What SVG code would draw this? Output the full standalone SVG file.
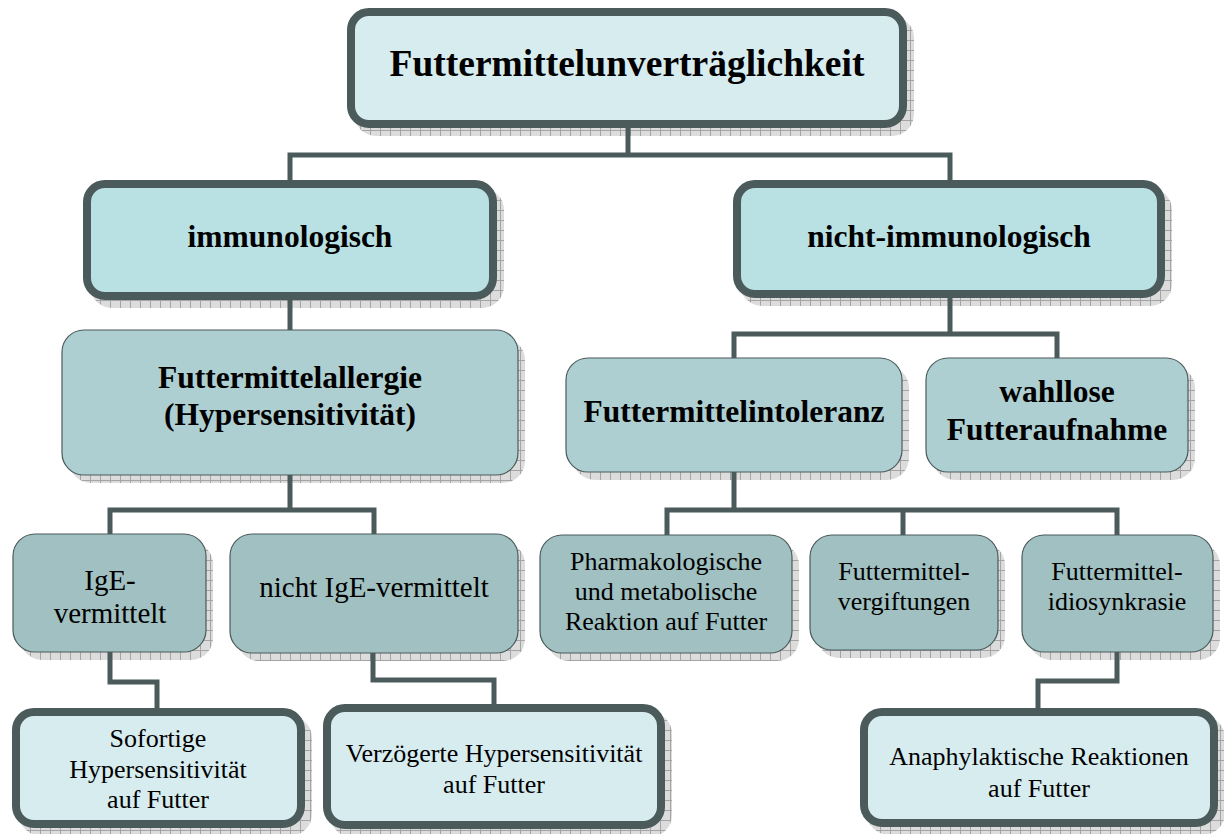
<svg xmlns="http://www.w3.org/2000/svg" width="1224" height="834" viewBox="0 0 1224 834">
<defs>
<pattern id="grid" width="10" height="10" patternUnits="userSpaceOnUse">
<rect width="10" height="10" fill="#dcdcdc"/>
<path d="M0 0.5H10M0.5 0V10" stroke="#a4a4a4" stroke-width="1"/>
</pattern>
</defs>
<style>
.sh{fill:url(#grid);}
.b0{fill:#d7ecef;stroke:#4b5a5a;stroke-width:8;}
.b1{fill:#b9e0e3;stroke:#4b5a5a;stroke-width:8;}
.b2{fill:#aecfd1;stroke:#4b5a5a;stroke-width:1.2;}
.b3{fill:#a0c0c1;stroke:#4b5a5a;stroke-width:1.2;}
text{font-family:"Liberation Serif","Tinos","Nimbus Roman","Times New Roman","FreeSerif","DejaVu Serif Condensed","DejaVu Serif",serif;fill:#000;text-anchor:middle;font-weight:normal;font-style:normal;}
.tb{font-weight:bold;font-size:31.5px;}
.tt{font-weight:bold;font-size:37.5px;}
.tm{font-size:29px;}
.ts{font-size:26px;}
.c{fill:none;stroke:#4b5a5a;stroke-width:5;stroke-linejoin:miter;}
</style>
<g id="n-top">
<rect class="sh" x="354" y="16" width="560" height="120" rx="22"/>
<rect class="b0" x="351" y="12" width="552" height="112" rx="18"/>
<text class="tt" x="627" y="76">Futtermittelunverträglichkeit</text>
</g>
<g id="n-immun">
<rect class="sh" x="90" y="188" width="414" height="120" rx="22"/>
<rect class="b1" x="87" y="184" width="406" height="112" rx="18"/>
<text class="tb" x="290" y="247">immunologisch</text>
</g>
<g id="n-nichtimmun">
<rect class="sh" x="740" y="188" width="432" height="118" rx="22"/>
<rect class="b1" x="737" y="184" width="424" height="110" rx="18"/>
<text class="tb" x="949" y="247">nicht-immunologisch</text>
</g>
<g id="n-allergie">
<rect class="sh" x="69" y="338" width="456" height="145" rx="22"/>
<rect class="b2" x="62" y="330" width="456" height="145" rx="22"/>
<text class="tb" x="290" y="388">Futtermittelallergie</text>
<text class="tb" x="290" y="425">(Hypersensitivität)</text>
</g>
<g id="n-intoleranz">
<rect class="sh" x="573" y="366" width="336" height="114" rx="22"/>
<rect class="b2" x="566" y="358" width="336" height="114" rx="22"/>
<text class="tb" x="734" y="422">Futtermittelintoleranz</text>
</g>
<g id="n-wahllose">
<rect class="sh" x="933" y="366" width="262" height="114" rx="22"/>
<rect class="b2" x="926" y="358" width="262" height="114" rx="22"/>
<text class="tb" x="1057" y="402">wahllose</text>
<text class="tb" x="1057" y="440">Futteraufnahme</text>
</g>
<g id="n-ige">
<rect class="sh" x="20" y="542" width="193" height="118" rx="22"/>
<rect class="b3" x="13" y="534" width="193" height="118" rx="22"/>
<text class="tm" x="110" y="590">IgE-</text>
<text class="tm" x="110" y="623">vermittelt</text>
</g>
<g id="n-nichtige">
<rect class="sh" x="237" y="542" width="288" height="119" rx="22"/>
<rect class="b3" x="230" y="534" width="288" height="119" rx="22"/>
<text class="tm" x="374" y="597">nicht IgE-vermittelt</text>
</g>
<g id="n-pharma">
<rect class="sh" x="547" y="543" width="252" height="118" rx="22"/>
<rect class="b3" x="540" y="535" width="252" height="118" rx="22"/>
<text class="ts" x="666" y="570">Pharmakologische</text>
<text class="ts" x="666" y="600">und metabolische</text>
<text class="ts" x="666" y="630">Reaktion auf Futter</text>
</g>
<g id="n-vergift">
<rect class="sh" x="817" y="543" width="188" height="115" rx="22"/>
<rect class="b3" x="810" y="535" width="188" height="115" rx="22"/>
<text class="ts" x="904" y="580">Futtermittel-</text>
<text class="ts" x="904" y="610">vergiftungen</text>
</g>
<g id="n-idio">
<rect class="sh" x="1029" y="543" width="191" height="117" rx="22"/>
<rect class="b3" x="1022" y="535" width="191" height="117" rx="22"/>
<text class="ts" x="1117" y="580">Futtermittel-</text>
<text class="ts" x="1117" y="610">idiosynkrasie</text>
</g>
<g id="n-sofort">
<rect class="sh" x="19" y="716" width="293" height="120" rx="22"/>
<rect class="b0" x="16" y="712" width="285" height="112" rx="18"/>
<text class="ts" x="158" y="747">Sofortige</text>
<text class="ts" x="158" y="778">Hypersensitivität</text>
<text class="ts" x="158" y="808">auf Futter</text>
</g>
<g id="n-verz">
<rect class="sh" x="330" y="712" width="342" height="125" rx="22"/>
<rect class="b0" x="327" y="708" width="334" height="117" rx="18"/>
<text class="ts" x="494" y="762">Verzögerte Hypersensitivität</text>
<text class="ts" x="494" y="793">auf Futter</text>
</g>
<g id="n-anaph">
<rect class="sh" x="867" y="716" width="358" height="119" rx="22"/>
<rect class="b0" x="864" y="712" width="350" height="111" rx="18"/>
<text class="ts" x="1039" y="765">Anaphylaktische Reaktionen</text>
<text class="ts" x="1039" y="797">auf Futter</text>
</g>
<g id="connectors">
<path class="c" d="M628 128V155M290 180V155H950V180"/>
<path class="c" d="M290 300V330"/>
<path class="c" d="M950 298V334M734 358V334H1057V358"/>
<path class="c" d="M290 475V510M110 534V510H374V534"/>
<path class="c" d="M734 472V510M667 535V510H1117V535M903 510V535"/>
<path class="c" d="M110 652V682H157V708"/>
<path class="c" d="M373 653V680H494V704"/>
<path class="c" d="M1117 652V681H1038V708"/>
</g>
</svg>
